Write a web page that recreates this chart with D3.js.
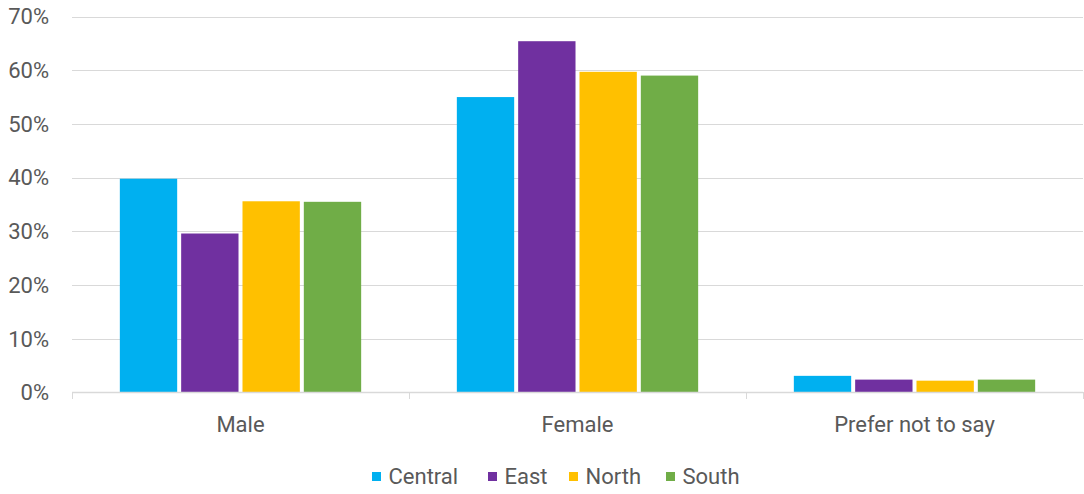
<!DOCTYPE html>
<html><head><meta charset="utf-8">
<script src="https://cdn.jsdelivr.net/npm/d3@7/dist/d3.min.js"></script>
<style>body{margin:0;background:#fff;}svg{display:block;}</style>
</head><body>
<svg id="c" width="1084" height="494"></svg>
<script>
const categories = ["Male", "Female", "Prefer not to say"];
const seriesNames = ["Central", "East", "North", "South"];
const colors = ["#00B0F0", "#7030A0", "#FFC000", "#70AD47"];
const central = [0.398, 0.550, 0.031];
const east = [0.296, 0.654, 0.024];
const north = [0.356, 0.597, 0.022];
const south = [0.355, 0.590, 0.024];
const yTicks = [0, 0.1, 0.2, 0.3, 0.4, 0.5, 0.6, 0.7];
const seriesValues = [central, east, north, south];

const svg = d3.select("#c");
const font = "Roboto, 'Open Sans', sans-serif";
const fsize = "22px";
const plotLeft = 72, plotRight = 1083, plotTop = 16.5, plotBottom = 392.5;
const x = d3.scaleBand().domain(categories).range([plotLeft, plotRight]).paddingInner(0).paddingOuter(0);
const y = d3.scaleLinear().domain([0, 0.7]).range([plotBottom, plotTop]);
const inner = d3.scaleBand().domain(seriesNames).range([0, x.bandwidth()]).paddingOuter(0.78).paddingInner(0.065);

// gridlines
svg.append("g").selectAll("line").data(yTicks.slice(1)).join("line")
  .attr("x1", plotLeft).attr("x2", plotRight)
  .attr("y1", d => Math.round(y(d)) + 0.5).attr("y2", d => Math.round(y(d)) + 0.5)
  .attr("stroke", "#D9D9D9").attr("stroke-width", 1);

// y labels
svg.append("g").selectAll("text").data(yTicks).join("text")
  .attr("x", 49).attr("y", d => y(d) + 7.8)
  .attr("text-anchor", "end").attr("fill", "#595959")
  .style("font-family", font).style("font-size", fsize)
  .text(d => d3.format(".0%")(d));

// bars
const g = svg.append("g");
seriesNames.forEach((s, i) => {
  g.append("g").selectAll("rect").data(categories).join("rect")
    .attr("x", c => x(c) + inner(s))
    .attr("width", inner.bandwidth())
    .attr("y", (c, j) => y(seriesValues[i][j]))
    .attr("height", (c, j) => y(0) - y(seriesValues[i][j]))
    .attr("fill", colors[i]);
});

// x axis line
svg.append("line").attr("x1", plotLeft).attr("x2", plotRight)
  .attr("y1", 392.5).attr("y2", 392.5).attr("stroke", "#D9D9D9").attr("stroke-width", 1.5);
const bounds = categories.map(c => x(c)).concat([plotRight]);
svg.append("g").selectAll("line").data(bounds).join("line")
  .attr("x1", d => Math.round(d) + 0.5).attr("x2", d => Math.round(d) + 0.5)
  .attr("y1", 392).attr("y2", 399).attr("stroke", "#D9D9D9").attr("stroke-width", 1);

// x labels
svg.append("g").selectAll("text").data(categories).join("text")
  .attr("x", c => x(c) + x.bandwidth() / 2).attr("y", 431.5)
  .attr("text-anchor", "middle").attr("fill", "#595959")
  .style("font-family", font).style("font-size", fsize)
  .text(c => c);

// legend
const legendX = [372, 488, 569, 666];
const lg = svg.append("g");
seriesNames.forEach((s, i) => {
  lg.append("rect").attr("x", legendX[i]).attr("y", 472).attr("width", 9).attr("height", 9).attr("fill", colors[i]);
  lg.append("text").attr("x", legendX[i] + 16.5).attr("y", 484)
    .attr("fill", "#595959").style("font-family", font).style("font-size", fsize).text(s);
});
</script>
</body></html>
